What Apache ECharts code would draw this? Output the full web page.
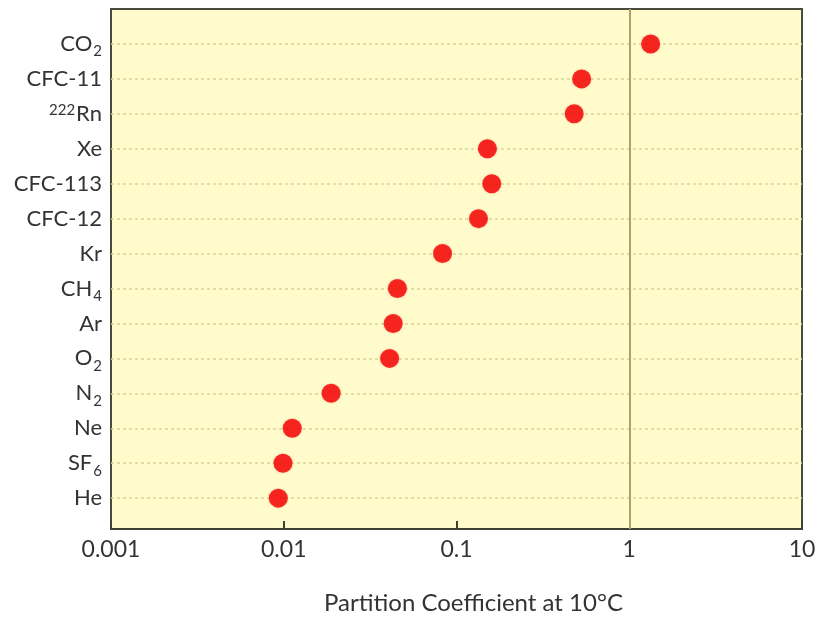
<!DOCTYPE html>
<html><head><meta charset="utf-8">
<script src="https://cdn.jsdelivr.net/npm/echarts@6/dist/echarts.min.js"></script>
<style>html,body{margin:0;padding:0;background:#fff}#c{width:819px;height:620px}</style>
</head><body><div id="c"></div>
<script>
// categories from bottom (1) to top (14)
const gases = ['He','SF{sub|6}','Ne','N{sub|2}','O{sub|2}','Ar','CH{sub|4}','Kr','CFC-12','CFC-113','Xe','{sup|222}Rn','CFC-11','CO{sub|2}'];
const coefficients = [0.0093, 0.0099, 0.0112, 0.0188, 0.041, 0.043, 0.0455, 0.083, 0.134, 0.16, 0.151, 0.48, 0.53, 1.33];
const xTicks = [0.001, 0.01, 0.1, 1, 10];
const rowPositions = gases.map((g, i) => i + 1);

const font = 'Lato, "Open Sans", sans-serif';
const chart = echarts.init(document.getElementById('c'));
chart.setOption({
  animation: false,
  grid: { left: 111, top: 9, width: 691, height: 523, show: true, backgroundColor: '#fffbcb', borderColor: '#4a4a3e', borderWidth: 2 },
  xAxis: {
    type: 'log', logBase: 10, min: 0.001, max: 10,
    axisLine: { show: true, lineStyle: { color: '#3f3f33', width: 2 } },
    axisTick: { show: true, inside: true, length: 8, lineStyle: { color: '#3f3f33', width: 2 } },
    splitLine: { show: false },
    axisLabel: { fontSize: 23, color: '#333', fontFamily: font, margin: 9, formatter: v => String(v) },
    name: 'Partition Coefficient at 10°C', nameLocation: 'middle', nameGap: 62,
    nameTextStyle: { fontSize: 24, color: '#333', fontFamily: font, padding: [0, 0, 0, 34] }
  },
  yAxis: {
    type: 'value', min: 0.117, max: 15,
    axisLine: { show: false }, axisTick: { show: false }, splitLine: { show: false },
    axisLabel: {
      customValues: rowPositions, margin: 9,
      formatter: v => gases[Math.round(v) - 1] || '',
      fontSize: 22, color: '#333', fontFamily: font,
      rich: {
        sub: { fontSize: 15, color: '#333', fontFamily: font, verticalAlign: 'bottom', padding: [15, 0, 0, 1] },
        sup: { fontSize: 15, color: '#333', fontFamily: font, verticalAlign: 'top', padding: [0, 1, 8, 0] }
      }
    }
  },
  series: [{
    type: 'scatter',
    data: coefficients.map((c, i) => [c, rowPositions[i]]),
    symbolSize: 19,
    itemStyle: { color: '#f20000', shadowColor: 'rgba(255,60,60,0.45)', shadowBlur: 2 },
    z: 5,
    markLine: {
      silent: true, symbol: 'none', label: { show: false }, z: 1,
      data: rowPositions.map(p => ({ yAxis: p, lineStyle: { color: '#d9d49a', type: [3, 3], width: 1.5 } }))
        .concat([{ xAxis: 1, lineStyle: { color: '#b59f69', type: 'solid', width: 2 } }])
    }
  }]
});
</script></body></html>
